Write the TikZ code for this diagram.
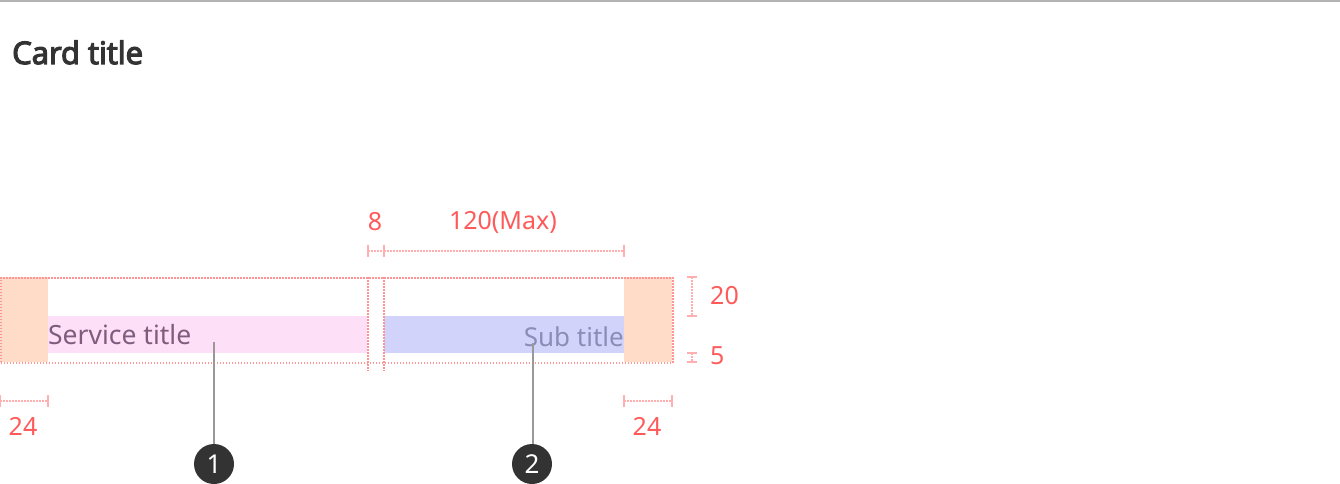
\documentclass[tikz,border=0pt]{standalone}
\usepackage{fontspec}
\setmainfont{Noto Sans}
\newfontfamily\titlefont{Open Sans}[FakeBold=4]
\usetikzlibrary{positioning}
\definecolor{rulegray}{HTML}{B3B3B3}
\definecolor{titledark}{HTML}{333333}
\definecolor{guidered}{HTML}{FF9494}
\definecolor{tickred}{HTML}{FFAFAF}
\definecolor{dimred}{HTML}{FF5A5A}
\definecolor{padorange}{HTML}{FFDCC7}
\definecolor{svcpink}{HTML}{FDE0F8}
\definecolor{subblue}{HTML}{D2D3FB}
\definecolor{svctext}{HTML}{7F5C7D}
\definecolor{subtext}{HTML}{8B8DB8}
\definecolor{leadergray}{HTML}{999999}
\definecolor{badgedark}{HTML}{333333}
\tikzset{
  guide/.style={draw=guidered, line width=1.5pt, dash pattern=on 1.5pt off 1.5pt},
  dimline/.style={draw=tickred, line width=1.5pt, dash pattern=on 1.5pt off 1.5pt},
  dimtick/.style={draw=tickred, line width=1.5pt},
  padblk/.style={fill=padorange, inner sep=0pt, anchor=north west},
  barblk/.style={inner sep=0pt, anchor=north west, minimum height=37pt},
  dimlbl/.style={font=\fontsize{25}{25}\selectfont, text=dimred, inner sep=0pt, anchor=base},
  leader/.style={draw=leadergray, line width=2pt},
  badge/.style={circle, fill=badgedark, text=white, minimum size=40pt, inner sep=0pt, font=\fontsize{26}{26}\selectfont},
}
\begin{document}
\begin{tikzpicture}[x=1pt, y=-1pt]
    \useasboundingbox (0,0) rectangle (1340,484);
    \draw[rulegray, line width=2pt] (0,1) -- (1340,1);
    \node[anchor=base west, inner sep=0pt, text=titledark, font=\titlefont\fontsize{31}{31}\selectfont] (title) at (12,64) {Card title};

    % card row
    \node[padblk, minimum width=48pt, minimum height=85pt] (padL) at (0,277) {};
    \node[padblk, minimum width=48pt, minimum height=85pt] (padR) at (624,277) {};
    \node[barblk, fill=svcpink, minimum width=319pt] (svcbar) at (48,316) {};
    \node[barblk, fill=subblue, minimum width=240pt] (subbar) at (384,316) {};
    \node[anchor=base west, inner sep=0pt, text=svctext, font=\fontsize{26.5}{26.5}\selectfont] (svc) at (48,344) {Service title};
    \node[anchor=base east, inner sep=0pt, text=subtext, font=\fontsize{26}{26}\selectfont] (sub) at (624,346) {Sub title};
    \node[guide, anchor=north west, inner sep=0pt, minimum width=672pt, minimum height=85pt] (card) at (0,277) {};
    \foreach \x in {368,384}{\draw[guide] (\x,277) -- (\x,371);}

    % horizontal dimensions
    \foreach \n/\a/\b/\y/\t in {gap/368/384/251/8, max/384/624/251/120(Max), lpad/0/48/401/24, rpad/624/672/401/24}{
      \coordinate (\n-a) at (\a,\y);
      \coordinate (\n-b) at (\b,\y);
      \draw[dimline] (\n-a) -- (\n-b);
      \draw[dimtick] ([yshift=-6pt]\n-a) -- ([yshift=6pt]\n-a);
      \draw[dimtick] ([yshift=-6pt]\n-b) -- ([yshift=6pt]\n-b);
    }
    \node[dimlbl] (gaplbl) at (375,230) {8};
    \node[dimlbl] (maxlbl) at (503,229) {120(Max)};
    \node[dimlbl] (lpadlbl) at (23,435) {24};
    \node[dimlbl] (rpadlbl) at (647,435) {24};

    % vertical dimensions
    \foreach \n/\a/\b in {top/277/316, bot/353/362}{
      \coordinate (\n-a) at (692,\a);
      \coordinate (\n-b) at (692,\b);
      \draw[dimline] (\n-a) -- (\n-b);
      \draw[dimtick] ([xshift=-5pt]\n-a) -- ([xshift=5pt]\n-a);
      \draw[dimtick] ([xshift=-5pt]\n-b) -- ([xshift=5pt]\n-b);
    }
    \node[dimlbl, anchor=base west] (toplbl) at (710,304) {20};
    \node[dimlbl, anchor=base west] (botlbl) at (710,364) {5};

    % callouts
    \coordinate (p1) at (214,342);
    \coordinate (p2) at (533,343);
    \node[badge] (b1) at (214,464) {1};
    \node[badge] (b2) at (532,464) {2};
    \draw[leader] (p1) -- (p1 |- b1.north);
    \draw[leader] (p2) -- (p2 |- b2.north);
\end{tikzpicture}
\end{document}
